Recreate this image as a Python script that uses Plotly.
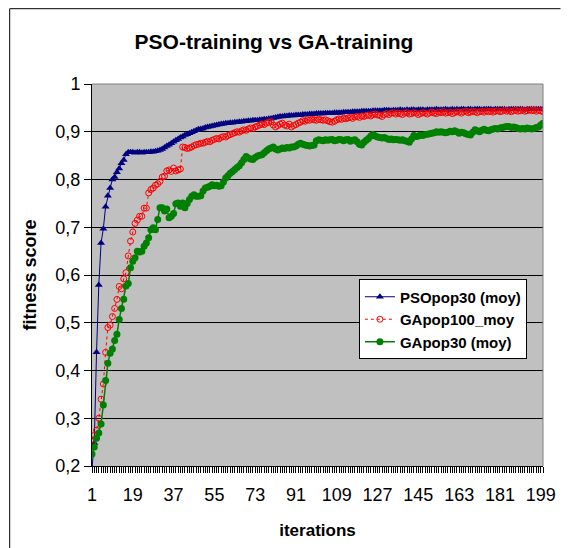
import plotly.graph_objects as go

iterations = list(range(1, 201))

pso_pop30 = [
    0.195, 0.248, 0.438, 0.579, 0.667, 0.697, 0.743, 0.766, 0.782, 0.800,
    0.805, 0.815, 0.823, 0.834, 0.841, 0.853, 0.857, 0.857, 0.857, 0.856,
    0.857, 0.857, 0.856, 0.857, 0.857, 0.857, 0.858, 0.858, 0.859, 0.860,
    0.862, 0.864, 0.867, 0.870, 0.873, 0.876, 0.879, 0.882, 0.885, 0.888,
    0.890, 0.893, 0.895, 0.897, 0.899, 0.901, 0.903, 0.905, 0.906, 0.907,
    0.909, 0.910, 0.911, 0.912, 0.913, 0.914, 0.915, 0.916, 0.917, 0.918,
    0.918, 0.919, 0.919, 0.920, 0.920, 0.921, 0.921, 0.922, 0.922, 0.923,
    0.923, 0.924, 0.924, 0.924, 0.925, 0.925, 0.926, 0.926, 0.927, 0.928,
    0.929, 0.930, 0.931, 0.932, 0.932, 0.933, 0.933, 0.934, 0.934, 0.934,
    0.935, 0.935, 0.935, 0.936, 0.936, 0.936, 0.937, 0.937, 0.937, 0.938,
    0.938, 0.938, 0.938, 0.939, 0.939, 0.939, 0.939, 0.940, 0.940, 0.940,
    0.940, 0.941, 0.941, 0.941, 0.941, 0.942, 0.942, 0.942, 0.942, 0.943,
    0.943, 0.943, 0.943, 0.943, 0.944, 0.944, 0.944, 0.944, 0.944, 0.945,
    0.945, 0.945, 0.944, 0.945, 0.945, 0.945, 0.946, 0.945, 0.945, 0.946,
    0.945, 0.946, 0.946, 0.945, 0.946, 0.946, 0.946, 0.945, 0.946, 0.946,
    0.946, 0.946, 0.947, 0.946, 0.946, 0.946, 0.947, 0.946, 0.946, 0.947,
    0.946, 0.947, 0.946, 0.947, 0.947, 0.946, 0.947, 0.947, 0.946, 0.947,
    0.947, 0.947, 0.946, 0.947, 0.947, 0.947, 0.947, 0.946, 0.947, 0.947,
    0.947, 0.947, 0.947, 0.946, 0.947, 0.947, 0.947, 0.947, 0.947, 0.947,
    0.947, 0.946, 0.947, 0.947, 0.947, 0.947, 0.947, 0.947, 0.947, 0.947,
]

ga_pop100 = [
    0.255, 0.264, 0.275, 0.300, 0.340, 0.372, 0.438, 0.490, 0.495, 0.513,
    0.530, 0.549, 0.576, 0.571, 0.592, 0.605, 0.640, 0.671, 0.690, 0.708,
    0.715, 0.723, 0.723, 0.740, 0.740, 0.772, 0.779, 0.782, 0.788, 0.791,
    0.796, 0.805, 0.807, 0.818, 0.820, 0.817, 0.824, 0.818, 0.820, 0.822,
    0.868, 0.867, 0.865, 0.866, 0.868, 0.871, 0.873, 0.874, 0.876, 0.876,
    0.878, 0.880, 0.879, 0.882, 0.884, 0.886, 0.885, 0.888, 0.890, 0.889,
    0.892, 0.894, 0.896, 0.898, 0.900, 0.899, 0.902, 0.904, 0.903, 0.906,
    0.908, 0.907, 0.910, 0.912, 0.914, 0.916, 0.915, 0.918, 0.920, 0.921,
    0.914, 0.910, 0.913, 0.916, 0.918, 0.914, 0.912, 0.916, 0.910, 0.913,
    0.915, 0.918, 0.920, 0.923, 0.922, 0.925, 0.924, 0.926, 0.925, 0.924,
    0.926, 0.925, 0.924, 0.925, 0.923, 0.921, 0.920, 0.922, 0.925, 0.927,
    0.926, 0.928, 0.927, 0.929, 0.930, 0.928, 0.931, 0.932, 0.930, 0.933,
    0.932, 0.934, 0.935, 0.933, 0.936, 0.937, 0.935, 0.934, 0.932, 0.936,
    0.938, 0.936, 0.939, 0.940, 0.937, 0.939, 0.938, 0.936, 0.939, 0.940,
    0.937, 0.938, 0.940, 0.939, 0.936, 0.938, 0.940, 0.939, 0.937, 0.940,
    0.941, 0.939, 0.938, 0.941, 0.940, 0.942, 0.939, 0.940, 0.941, 0.938,
    0.940, 0.942, 0.941, 0.939, 0.942, 0.943, 0.940, 0.941, 0.943, 0.942,
    0.940, 0.942, 0.943, 0.941, 0.944, 0.942, 0.943, 0.941, 0.943, 0.944,
    0.942, 0.943, 0.945, 0.943, 0.944, 0.942, 0.944, 0.945, 0.943, 0.944,
    0.945, 0.943, 0.944, 0.946, 0.944, 0.945, 0.943, 0.945, 0.944, 0.942,
]

ga_pop30 = [
    0.225, 0.240, 0.258, 0.269, 0.288, 0.328, 0.379, 0.415, 0.436, 0.445,
    0.463, 0.476, 0.507, 0.530, 0.549, 0.577, 0.582, 0.615, 0.629, 0.636,
    0.650, 0.648, 0.650, 0.660, 0.667, 0.678, 0.695, 0.699, 0.695, 0.716,
    0.741, 0.741, 0.734, 0.738, 0.720, 0.723, 0.729, 0.749, 0.751, 0.744,
    0.751, 0.741, 0.750, 0.758, 0.765, 0.768, 0.765, 0.765, 0.766, 0.776,
    0.782, 0.784, 0.786, 0.789, 0.787, 0.788, 0.786, 0.787, 0.795, 0.803,
    0.808, 0.813, 0.817, 0.821, 0.825, 0.829, 0.835, 0.842, 0.848, 0.845,
    0.843, 0.842, 0.846, 0.849, 0.851, 0.852, 0.856, 0.860, 0.864, 0.866,
    0.868, 0.864, 0.862, 0.864, 0.866, 0.865, 0.867, 0.866, 0.868, 0.868,
    0.870, 0.874, 0.876, 0.874, 0.872, 0.871, 0.870, 0.871, 0.872, 0.881,
    0.883, 0.882, 0.881, 0.883, 0.882, 0.883, 0.884, 0.881, 0.882, 0.884,
    0.883, 0.881, 0.883, 0.884, 0.880, 0.882, 0.883, 0.879, 0.874, 0.872,
    0.878, 0.882, 0.886, 0.891, 0.894, 0.891, 0.889, 0.888, 0.887, 0.888,
    0.886, 0.884, 0.885, 0.883, 0.884, 0.883, 0.882, 0.883, 0.881, 0.880,
    0.878, 0.885, 0.892, 0.890, 0.891, 0.893, 0.892, 0.894, 0.895, 0.896,
    0.897, 0.898, 0.900, 0.899, 0.900, 0.899, 0.898, 0.899, 0.901, 0.900,
    0.902, 0.900, 0.897, 0.899, 0.898, 0.896, 0.894, 0.893, 0.899, 0.904,
    0.902, 0.900, 0.903, 0.905, 0.903, 0.902, 0.904, 0.906, 0.907, 0.906,
    0.908, 0.909, 0.910, 0.911, 0.911, 0.909, 0.910, 0.909, 0.907, 0.906,
    0.907, 0.906, 0.908, 0.907, 0.906, 0.907, 0.909, 0.910, 0.914, 0.918,
]

x_tick_vals = [1, 19, 37, 55, 73, 91, 109, 127, 145, 163, 181, 199]
y_tick_vals = [0.2, 0.3, 0.4, 0.5, 0.6, 0.7, 0.8, 0.9, 1.0]
y_tick_text = ["0,2", "0,3", "0,4", "0,5", "0,6", "0,7", "0,8", "0,9", "1"]

FONT = "Arial, Liberation Sans, sans-serif"

fig = go.Figure()
fig.add_trace(go.Scatter(
    x=iterations, y=pso_pop30, name="PSOpop30 (moy)", mode="lines+markers",
    line=dict(color="#000080", width=1),
    marker=dict(symbol="triangle-up", size=7, color="#000080"),
))
fig.add_trace(go.Scatter(
    x=iterations, y=ga_pop100, name="GApop100_moy", mode="lines+markers",
    line=dict(color="#FF0000", width=1, dash="dot"),
    marker=dict(symbol="circle-open", size=6, color="#FF0000", line=dict(width=1)),
))
fig.add_trace(go.Scatter(
    x=iterations, y=ga_pop30, name="GApop30 (moy)", mode="lines+markers",
    line=dict(color="#008000", width=1.5),
    marker=dict(symbol="circle", size=7, color="#008000"),
))

W, H = 568, 548
L, R, T, B = 92, 13, 84, 81
pw, ph = W - L - R, H - T - B

def px_x(p):
    return (p - L) / pw

def px_y(p):
    return (H - B - p) / ph

fig.update_layout(
    width=W, height=H,
    margin=dict(l=L, r=R, t=T, b=B),
    paper_bgcolor="white",
    plot_bgcolor="#C0C0C0",
    font=dict(family=FONT, color="black"),
    title=dict(text="<b>PSO-training vs GA-training</b>", xref="container", x=274 / W,
               xanchor="center", yref="container", y=1 - 42 / H, yanchor="middle",
               font=dict(size=21, family=FONT)),
    showlegend=True,
    legend=dict(
        x=px_x(366), y=px_y(280), xanchor="left", yanchor="top",
        bgcolor="white", bordercolor="black", borderwidth=1,
        font=dict(size=15, family=FONT, weight="bold"), itemwidth=30,
        tracegroupgap=0,
    ),
    xaxis=dict(
        range=[1, 200], tickvals=x_tick_vals, ticktext=[str(v) for v in x_tick_vals],
        showgrid=False, zeroline=False,
        showline=True, linecolor="black", linewidth=1,
        ticks="outside", ticklen=6, tickcolor="black", tickwidth=1,
        minor=dict(dtick=1, tick0=1, ticks="outside", ticklen=6, tickcolor="black", tickwidth=1, showgrid=False),
        tickfont=dict(size=18, family=FONT),
        ticklabelstandoff=6,
        title=dict(text="<b>iterations</b>", font=dict(size=17, family=FONT), standoff=20),
    ),
    yaxis=dict(
        range=[0.2, 1.0], tickvals=y_tick_vals, ticktext=y_tick_text,
        showgrid=True, gridcolor="black", gridwidth=1, zeroline=False,
        showline=True, linecolor="black", linewidth=1,
        ticks="outside", ticklen=7, tickcolor="black", tickwidth=1,
        tickfont=dict(size=18, family=FONT),
        title=dict(text="<b>fitness score</b>", font=dict(size=18, family=FONT), standoff=14),
    ),
    shapes=[
        dict(type="line", xref="paper", yref="paper", x0=0, x1=1, y0=1, y1=1,
             line=dict(color="#808080", width=1)),
        dict(type="line", xref="paper", yref="paper", x0=1, x1=1, y0=0, y1=1,
             line=dict(color="#808080", width=1)),
        dict(type="line", xref="paper", yref="paper", x0=px_x(7.5), x1=px_x(W + 5),
             y0=px_y(8.5), y1=px_y(8.5), line=dict(color="black", width=1)),
        dict(type="line", xref="paper", yref="paper", x0=px_x(7.5), x1=px_x(7.5),
             y0=px_y(8.5), y1=px_y(H + 5), line=dict(color="black", width=1)),
    ],
)

fig.write_html(
    "out.html",
    config={"displayModeBar": False},
    post_script="document.body.style.margin='0';document.body.style.overflow='hidden';",
)
